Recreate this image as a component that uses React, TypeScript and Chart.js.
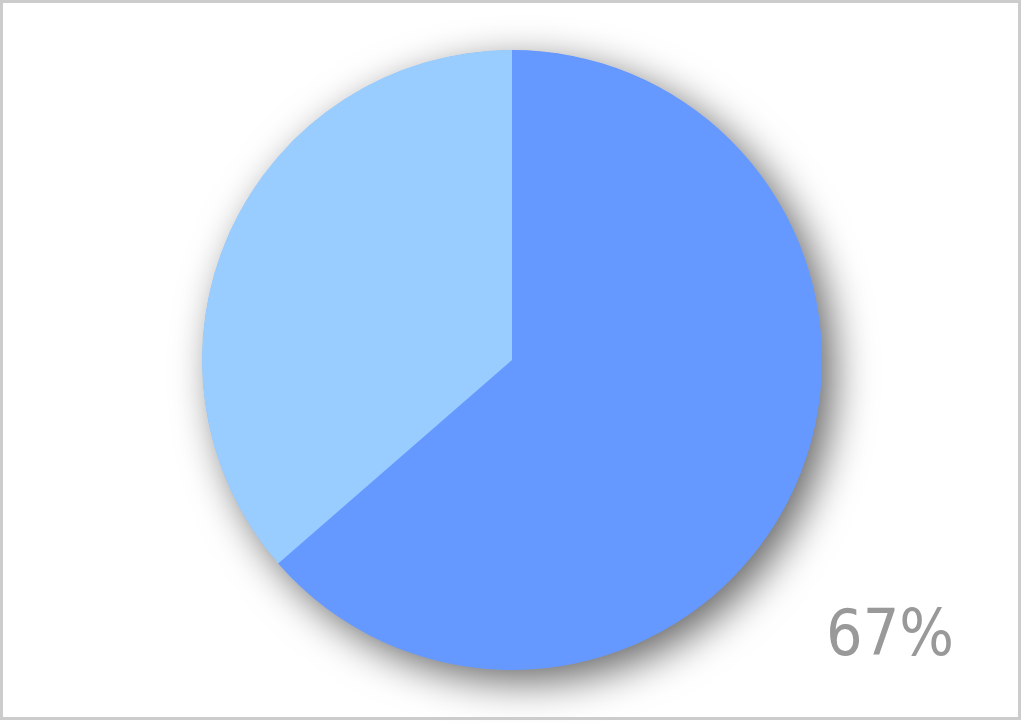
import React, { useEffect, useRef } from "react";
import { Chart, registerables } from "chart.js";

Chart.register(...registerables);

const categories: string[] = ["A", "B"];
const values: number[] = [63.6, 36.4];
const colors: string[] = ["#6699FF", "#99CCFF"];
const labelText = "67%";

const shadowPlugin = {
  id: "pieShadow",
  beforeDatasetsDraw(chart: any) {
    const meta = chart.getDatasetMeta(0);
    const arc = meta.data[0];
    if (!arc) return;
    const { x, y, outerRadius } = arc.getProps(["x", "y", "outerRadius"], true);
    const ctx = chart.ctx;
    ctx.save();
    ctx.shadowColor = "rgba(0,0,0,0.6)";
    ctx.shadowBlur = 40;
    ctx.shadowOffsetX = 12;
    ctx.shadowOffsetY = 12;
    ctx.fillStyle = colors[0];
    ctx.beginPath();
    ctx.arc(x, y, outerRadius - 0.5, 0, Math.PI * 2);
    ctx.fill();
    ctx.restore();
  },
  afterDraw(chart: any) {
    const ctx = chart.ctx;
    ctx.save();
    ctx.font = '64px "Liberation Sans Narrow", "DejaVu Sans Condensed", sans-serif';
    (ctx as any).letterSpacing = "0px";
    ctx.fillStyle = "#999999";
    ctx.textAlign = "left";
    ctx.textBaseline = "alphabetic";
    ctx.fillText(labelText, 826, 655);
    ctx.restore();
  },
};

export default function App() {
  const ref = useRef<HTMLCanvasElement | null>(null);
  useEffect(() => {
    document.body.style.margin = "0";
    if (!ref.current) return;
    const chart = new Chart(ref.current, {
      type: "pie",
      data: {
        labels: categories,
        datasets: [
          {
            data: values,
            backgroundColor: colors,
            borderWidth: 0,
          },
        ],
      },
      options: {
        animation: false,
        responsive: false,
        devicePixelRatio: 1,
        layout: { padding: { top: 50, bottom: 53, left: 0, right: 0 } },
        plugins: {
          legend: { display: false },
          tooltip: { enabled: false },
          title: { display: false },
        },
      },
      plugins: [shadowPlugin],
    });
    return () => chart.destroy();
  }, []);
  return (
    <div style={{ position: "relative", width: 1024, height: 723, background: "#ffffff" }}>
      <canvas ref={ref} width={1024} height={723} style={{ position: "absolute", left: 0, top: 0 }} />
      <div
        style={{
          position: "absolute",
          left: 0,
          top: 0,
          width: 1021,
          height: 720,
          border: "3px solid #cccccc",
          boxSizing: "border-box",
          pointerEvents: "none",
        }}
      />
    </div>
  );
}
